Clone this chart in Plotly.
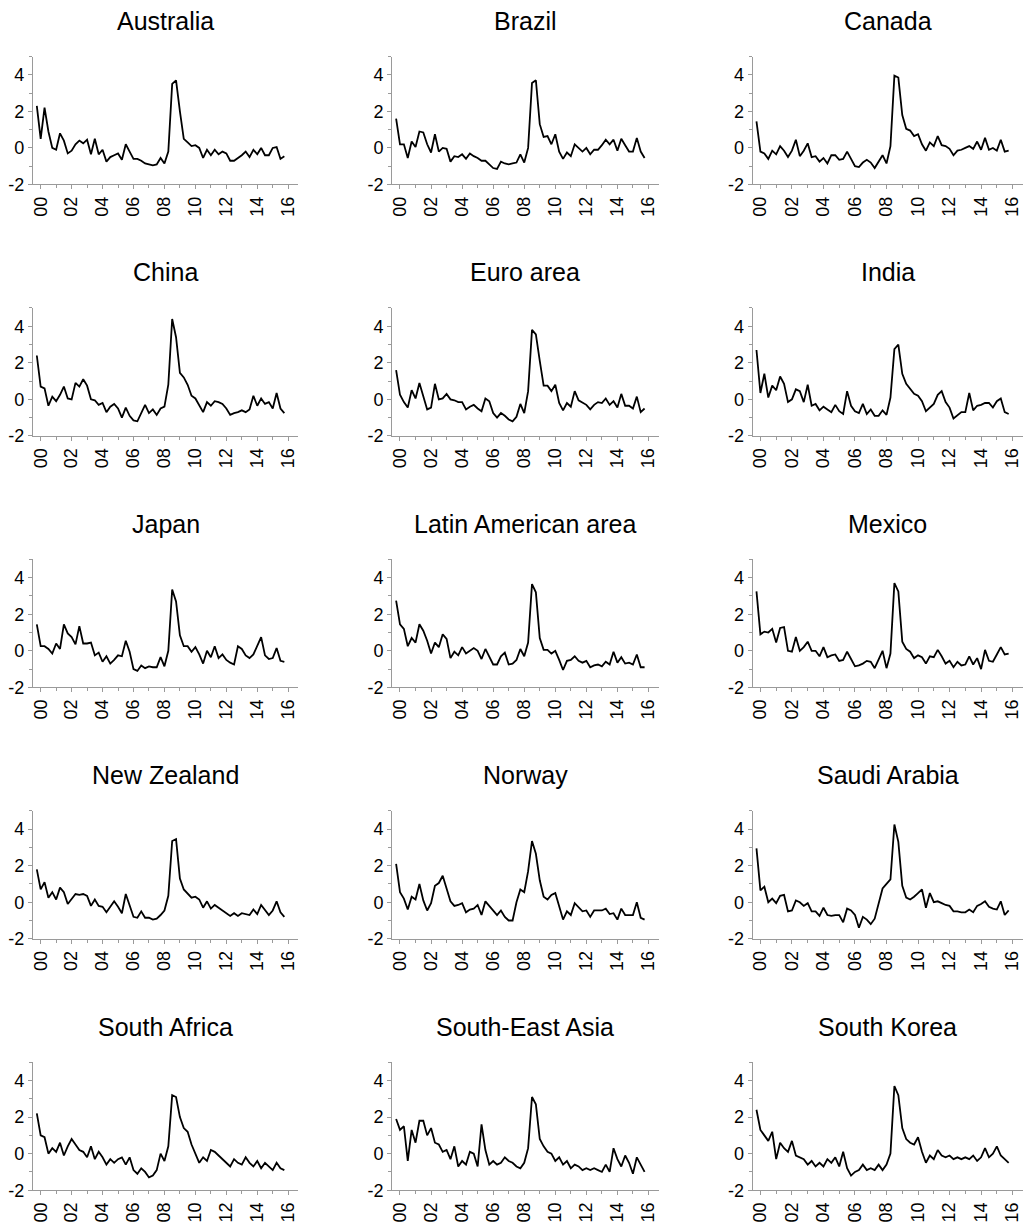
import plotly.graph_objects as go

W, H = 1025, 1227

titles = ["Australia", "Brazil", "Canada", "China", "Euro area", "India",
          "Japan", "Latin American area", "Mexico", "New Zealand", "Norway",
          "Saudi Arabia", "South Africa", "South-East Asia", "South Korea"]

start_year = 2000
tick_years = [2000, 2002, 2004, 2006, 2008, 2010, 2012, 2014, 2016]
tick_text = ["00", "02", "04", "06", "08", "10", "12", "14", "16"]
y_ticks = [-2, 0, 2, 4]
y_tick_text = ["-2", "0", "2", "4"]

australia = [2.3, 0.5, 2.2, 0.9, 0.0, -0.1, 0.8, 0.4, -0.3, -0.15, 0.2, 0.4, 0.25, 0.45, -0.35, 0.5,
             -0.35, -0.1, -0.75, -0.5, -0.4, -0.3, -0.65, 0.2, -0.2, -0.6, -0.6, -0.7, -0.85, -0.9,
             -0.95, -0.9, -0.55, -0.85, -0.2, 3.5, 3.7, 2.0, 0.5, 0.3, 0.1, 0.15, 0.0, -0.55, -0.1,
             -0.4, -0.1, -0.35, -0.2, -0.3, -0.7, -0.7, -0.55, -0.4, -0.2, -0.5, -0.1, -0.35, 0.0,
             -0.4, -0.4, 0.0, 0.05, -0.6, -0.45]
brazil = [1.6, 0.2, 0.2, -0.55, 0.35, 0.05, 0.9, 0.85, 0.2, -0.25, 0.75, -0.2, 0.0, -0.05, -0.75,
          -0.45, -0.5, -0.35, -0.6, -0.3, -0.45, -0.55, -0.7, -0.7, -0.9, -1.1, -1.15, -0.75, -0.85,
          -0.9, -0.85, -0.8, -0.35, -0.8, 0.0, 3.55, 3.7, 1.3, 0.6, 0.65, 0.2, 0.75, -0.2, -0.6,
          -0.25, -0.45, 0.2, 0.0, -0.2, 0.0, -0.35, -0.1, -0.1, 0.15, 0.45, 0.2, 0.45, -0.15, 0.5,
          0.15, -0.2, -0.2, 0.55, -0.2, -0.55]
canada = [1.45, -0.2, -0.3, -0.6, -0.15, -0.35, 0.1, -0.15, -0.5, -0.15, 0.45, -0.45, -0.15, 0.25,
          -0.5, -0.45, -0.75, -0.55, -0.85, -0.4, -0.4, -0.65, -0.6, -0.2, -0.6, -1.0, -1.05, -0.8,
          -0.65, -0.8, -1.1, -0.75, -0.4, -0.85, 0.1, 3.95, 3.85, 1.8, 1.05, 0.95, 0.65, 0.75, 0.2,
          -0.15, 0.3, 0.1, 0.65, 0.15, 0.1, -0.05, -0.4, -0.15, -0.1, 0.0, 0.1, -0.05, 0.35, -0.1,
          0.55, -0.1, 0.0, -0.15, 0.45, -0.2, -0.15]
china = [2.4, 0.7, 0.6, -0.35, 0.15, -0.1, 0.25, 0.7, 0.05, 0.0, 0.9, 0.7, 1.1, 0.75, 0.0, -0.05,
         -0.3, -0.2, -0.7, -0.4, -0.25, -0.5, -1.0, -0.45, -0.9, -1.15, -1.2, -0.75, -0.3, -0.75,
         -0.55, -0.85, -0.5, -0.4, 0.8, 4.4, 3.4, 1.45, 1.2, 0.8, 0.2, 0.05, -0.3, -0.7, -0.15,
         -0.35, -0.1, -0.15, -0.25, -0.5, -0.85, -0.75, -0.7, -0.6, -0.7, -0.55, 0.2, -0.35, 0.05,
         -0.25, -0.15, -0.5, 0.35, -0.5, -0.75]
euro_area = [1.6, 0.25, -0.15, -0.45, 0.5, 0.05, 0.9, 0.1, -0.55, -0.45, 0.85, 0.0, 0.05, 0.3, 0.0,
             -0.05, -0.15, -0.15, -0.55, -0.4, -0.3, -0.5, -0.65, 0.05, -0.1, -0.75, -1.0, -0.75,
             -0.9, -1.1, -1.2, -0.95, -0.25, -0.75, 0.45, 3.8, 3.55, 2.1, 0.75, 0.75, 0.45, 0.8,
             -0.2, -0.6, -0.2, -0.4, 0.45, -0.05, -0.2, -0.3, -0.55, -0.3, -0.15, -0.2, 0.05, -0.3,
             -0.1, -0.45, 0.3, -0.35, -0.35, -0.5, 0.15, -0.7, -0.5]
india = [2.7, 0.35, 1.4, 0.1, 0.75, 0.5, 1.25, 0.85, -0.15, 0.0, 0.55, 0.45, -0.15, 0.8, -0.35,
         -0.25, -0.6, -0.4, -0.55, -0.7, -0.3, -0.65, -0.8, 0.45, -0.35, -0.65, -0.75, -0.25, -0.8,
         -0.55, -0.9, -0.9, -0.6, -0.85, 0.1, 2.75, 3.0, 1.4, 0.85, 0.6, 0.3, 0.2, -0.1, -0.65,
         -0.45, -0.25, 0.25, 0.45, -0.15, -0.45, -1.05, -0.85, -0.7, -0.7, 0.35, -0.6, -0.35, -0.3,
         -0.2, -0.2, -0.45, -0.1, 0.05, -0.7, -0.8]
japan = [1.45, 0.25, 0.25, 0.1, -0.15, 0.4, 0.1, 1.45, 0.95, 0.75, 0.35, 1.35, 0.4, 0.4, 0.45,
         -0.25, -0.1, -0.6, -0.3, -0.7, -0.5, -0.25, -0.3, 0.55, -0.05, -1.0, -1.1, -0.8, -0.95,
         -0.85, -0.9, -0.9, -0.35, -0.85, 0.0, 3.35, 2.7, 0.85, 0.25, 0.25, -0.05, 0.2, -0.2, -0.7,
         0.0, -0.35, 0.25, -0.4, -0.2, -0.5, -0.65, -0.75, 0.25, 0.1, -0.25, -0.4, -0.2, 0.3, 0.75,
         -0.25, -0.45, -0.4, 0.15, -0.55, -0.6]
latin_america = [2.75, 1.45, 1.2, 0.25, 0.7, 0.45, 1.45, 1.1, 0.55, -0.15, 0.45, 0.2, 0.9, 0.65,
                 -0.4, -0.05, -0.25, 0.2, -0.15, 0.0, 0.15, 0.0, -0.45, 0.1, -0.35, -0.75, -0.75,
                 -0.3, -0.1, -0.75, -0.7, -0.5, 0.1, -0.3, 0.45, 3.65, 3.2, 0.7, 0.05, 0.05, -0.15,
                 0.0, -0.5, -1.05, -0.55, -0.5, -0.3, -0.55, -0.65, -0.55, -0.9, -0.8, -0.75, -0.85,
                 -0.6, -0.75, -0.05, -0.65, -0.35, -0.7, -0.65, -0.75, -0.2, -0.9, -0.9]
mexico = [3.25, 0.9, 1.05, 1.0, 1.2, 0.45, 1.25, 1.3, 0.0, -0.05, 0.75, 0.0, 0.2, 0.5, 0.0, 0.0,
          -0.3, 0.2, -0.35, -0.25, -0.2, -0.55, -0.5, -0.05, -0.45, -0.85, -0.8, -0.7, -0.55, -0.6,
          -0.95, -0.5, 0.0, -0.95, -0.15, 3.7, 3.25, 0.5, 0.1, -0.05, -0.4, -0.25, -0.35, -0.7,
          -0.3, -0.35, 0.05, -0.3, -0.7, -0.55, -0.9, -0.6, -0.8, -0.75, -0.3, -0.75, -0.4, -1.0,
          0.05, -0.55, -0.6, -0.2, 0.2, -0.2, -0.15]
new_zealand = [1.8, 0.7, 1.1, 0.25, 0.55, 0.15, 0.8, 0.55, -0.1, 0.2, 0.45, 0.4, 0.45, 0.35, -0.2,
               0.15, -0.2, -0.25, -0.55, -0.25, 0.05, -0.25, -0.6, 0.45, -0.15, -0.8, -0.85, -0.5,
               -0.85, -0.85, -0.95, -0.9, -0.7, -0.45, 0.35, 3.35, 3.45, 1.3, 0.7, 0.45, 0.25, 0.3,
               0.15, -0.3, 0.05, -0.35, -0.15, -0.3, -0.45, -0.55, -0.75, -0.6, -0.75, -0.6, -0.65,
               -0.7, -0.4, -0.65, -0.15, -0.45, -0.7, -0.45, 0.05, -0.55, -0.8]
norway = [2.1, 0.55, 0.2, -0.4, 0.3, 0.15, 1.0, 0.1, -0.45, -0.05, 0.9, 1.05, 1.45, 0.7, 0.05, -0.2,
          -0.15, -0.05, -0.55, -0.4, -0.35, -0.15, -0.7, 0.05, -0.2, -0.4, -0.7, -0.45, -0.8, -1.0,
          -1.0, 0.0, 0.7, 0.55, 1.7, 3.35, 2.65, 1.2, 0.3, 0.15, 0.4, 0.5, -0.3, -0.95, -0.5, -0.7,
          -0.05, -0.3, -0.5, -0.45, -0.8, -0.45, -0.45, -0.45, -0.35, -0.65, -0.6, -0.95, -0.35,
          -0.7, -0.7, -0.7, 0.0, -0.85, -0.95]
saudi_arabia = [2.95, 0.65, 0.85, 0.0, 0.2, -0.05, 0.35, 0.4, -0.5, -0.45, 0.1, 0.0, -0.2, -0.05,
                -0.5, -0.5, -0.75, -0.3, -0.7, -0.75, -0.7, -0.7, -1.1, -0.35, -0.45, -0.7, -1.4,
                -0.8, -0.95, -1.2, -0.9, -0.1, 0.75, 1.0, 1.25, 4.25, 3.3, 0.9, 0.25, 0.15, 0.3, 0.5,
                0.7, -0.3, 0.5, 0.0, 0.05, -0.05, -0.15, -0.2, -0.5, -0.5, -0.55, -0.55, -0.4, -0.55,
                -0.2, -0.1, 0.05, -0.25, -0.35, -0.4, 0.05, -0.7, -0.45]
south_africa = [2.2, 1.0, 0.9, 0.0, 0.3, 0.1, 0.6, -0.1, 0.4, 0.8, 0.5, 0.2, 0.1, -0.2, 0.4, -0.3,
                0.1, -0.2, -0.6, -0.3, -0.5, -0.3, -0.2, -0.6, -0.2, -0.9, -1.1, -0.8, -1.0, -1.3,
                -1.2, -0.9, 0.0, -0.4, 0.4, 3.2, 3.1, 2.0, 1.4, 1.2, 0.5, 0.0, -0.5, -0.2, -0.4, 0.2,
                0.1, -0.1, -0.3, -0.5, -0.7, -0.3, -0.5, -0.6, -0.2, -0.5, -0.7, -0.4, -0.8, -0.5,
                -0.7, -0.9, -0.5, -0.8, -0.9]
south_east_asia = [1.9, 1.3, 1.5, -0.4, 1.3, 0.6, 1.8, 1.8, 1.0, 1.4, 0.6, 0.5, 0.1, 0.2, -0.3, 0.4,
                   -0.7, -0.4, -0.6, 0.1, 0.0, -0.7, 1.6, 0.2, -0.6, -0.4, -0.6, -0.5, -0.2, -0.4,
                   -0.5, -0.7, -0.8, -0.5, 0.3, 3.1, 2.7, 0.8, 0.4, 0.1, 0.0, -0.4, -0.2, -0.6, -0.4,
                   -0.8, -0.6, -0.7, -0.9, -0.8, -0.9, -0.8, -0.9, -1.0, -0.6, -1.0, 0.3, -0.3, -0.7,
                   -0.1, -0.5, -1.1, -0.2, -0.6, -1.0]
south_korea = [2.4, 1.3, 1.0, 0.7, 1.2, -0.3, 0.6, 0.3, 0.1, 0.7, -0.1, -0.2, -0.3, -0.6, -0.4, -0.7,
               -0.5, -0.7, -0.3, -0.5, -0.2, -0.7, 0.1, -0.8, -1.2, -1.0, -0.9, -0.6, -0.9, -0.8,
               -0.9, -0.6, -0.9, -0.6, 0.0, 3.7, 3.2, 1.4, 0.8, 0.6, 0.5, 0.9, 0.1, -0.5, -0.1, -0.3,
               0.2, -0.1, -0.2, -0.1, -0.3, -0.2, -0.3, -0.2, -0.3, -0.1, -0.4, -0.2, 0.3, -0.2, 0.0,
               0.4, -0.1, -0.3, -0.5]

all_series = [australia, brazil, canada, china, euro_area, india, japan, latin_america, mexico,
              new_zealand, norway, saudi_arabia, south_africa, south_east_asia, south_korea]

# layout in pixels
cols_px = [(31, 297), (391, 658), (752, 1023)]
row_top0, row_pitch, row_h = 57, 253.5, 129
TICK_SHIFT = 0.25  # year labels sit one quarter to the right of the first observation

FONT = "Liberation Sans, Arial, sans-serif"
AXIS_COLOR = "#9a9a9a"

fig = go.Figure()
annotations = []
layout_axes = {}
for k, (name, vals) in enumerate(zip(titles, all_series)):
    r, c = divmod(k, 3)
    sfx = "" if k == 0 else str(k + 1)
    x = [start_year + i / 4 for i in range(len(vals))]
    fig.add_trace(go.Scatter(x=x, y=vals, mode="lines",
                             line=dict(color="black", width=1.8),
                             xaxis="x" + sfx, yaxis="y" + sfx,
                             showlegend=False, hoverinfo="skip"))
    x0, x1 = cols_px[c]
    top = row_top0 + row_pitch * r
    bot = top + row_h
    layout_axes["xaxis" + sfx] = dict(
        domain=[x0 / W, x1 / W], anchor="y" + sfx,
        range=[1999.75, 2016.91],
        tickvals=[t + TICK_SHIFT for t in tick_years], ticktext=tick_text,
        tickangle=-90, showgrid=False, zeroline=False,
        showline=True, linecolor=AXIS_COLOR, linewidth=1,
        ticks="outside", ticklen=4, tickcolor=AXIS_COLOR,
        minor=dict(tickvals=[t + 1 + TICK_SHIFT for t in tick_years[:-1]], ticks="outside",
                   ticklen=3, tickcolor=AXIS_COLOR, showgrid=False),
        tickfont=dict(family=FONT, size=18, color="black"),
        fixedrange=True,
    )
    layout_axes["yaxis" + sfx] = dict(
        domain=[1 - bot / H, 1 - top / H], anchor="x" + sfx,
        range=[-2, 5], tickvals=y_ticks, ticktext=y_tick_text,
        showgrid=False, zeroline=False,
        showline=True, linecolor=AXIS_COLOR, linewidth=1,
        ticks="outside", ticklen=4, tickcolor=AXIS_COLOR,
        minor=dict(tickvals=[-1, 1, 3, 5], ticks="outside",
                   ticklen=3, tickcolor=AXIS_COLOR, showgrid=False),
        tickfont=dict(family=FONT, size=18, color="black"),
        fixedrange=True,
    )
    annotations.append(dict(
        text=name, x=(x0 + x1) / 2 / W, y=1 - (top - 36) / H,
        xref="paper", yref="paper", xanchor="center", yanchor="middle",
        showarrow=False, font=dict(family=FONT, size=25, color="black")))

fig.update_layout(
    width=W, height=H, margin=dict(l=0, r=0, t=0, b=0),
    paper_bgcolor="white", plot_bgcolor="white",
    annotations=annotations, showlegend=False,
    **layout_axes,
)

fig.write_html("out.html", config={"displayModeBar": False})
